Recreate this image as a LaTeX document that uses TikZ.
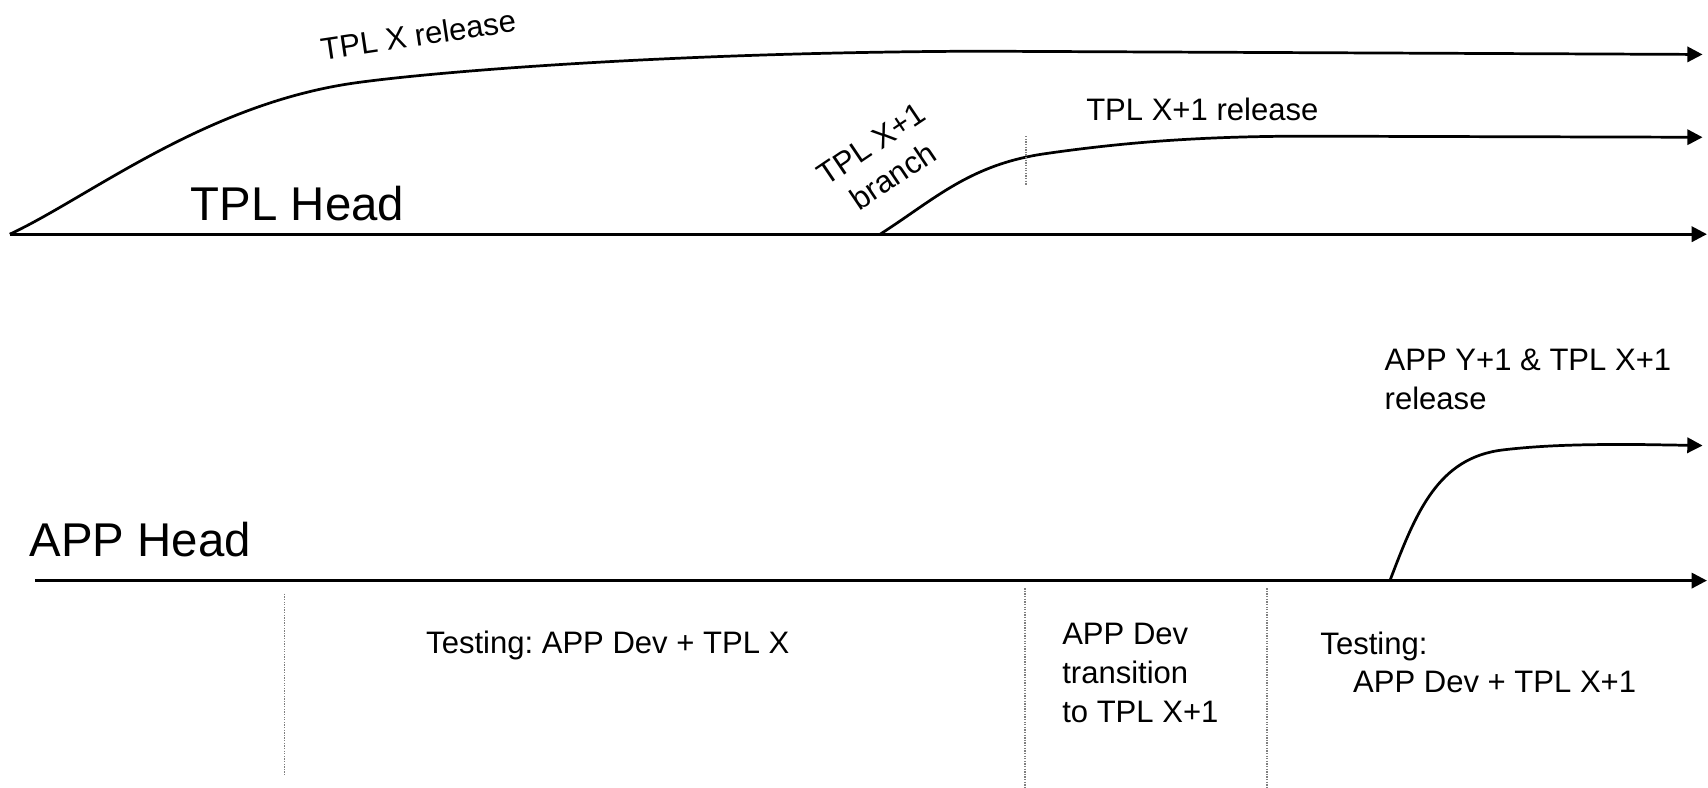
\documentclass[tikz,border=0pt]{standalone}
\usepackage{fontspec}
\setmainfont{Liberation Sans}
\usetikzlibrary{arrows.meta}
\begin{document}
\begin{tikzpicture}[x=1pt,y=-1pt,
  flow/.style={line width=2.5pt,-{Triangle[length=14pt,width=14pt]}},
  divider/.style={gray,line width=1.2pt,dash pattern=on 1.2pt off 1.2pt},
  lbl/.style={font=\fontsize{28.5}{35.5}\selectfont\frenchspacing,inner sep=0pt},
  head/.style={font=\fontsize{43.5}{50}\selectfont,inner sep=0pt}]
\useasboundingbox (0,0) rectangle (1568,723);

% anchor points of the timelines
\coordinate (tplL) at (9,215);
\coordinate (tplR) at (1567,215);
\coordinate (relXmid) at (320,77);
\coordinate (relXflat) at (900,47);
\coordinate (relXend) at (1563,50);
\coordinate (brStart) at (808,215);
\coordinate (brMid) at (960,141);
\coordinate (brFlat) at (1200,125);
\coordinate (brEnd) at (1563,126);
\coordinate (appL) at (32,533);
\coordinate (appR) at (1567,533);
\coordinate (appBr) at (1276,533);
\coordinate (appMid) at (1380,413);
\coordinate (appFlat) at (1500,408);
\coordinate (appEnd) at (1563,409);

% divider end points
\coordinate (dTopA) at (942,125);
\coordinate (dTopB) at (942,170);
\coordinate (d1A) at (261,545);
\coordinate (d1B) at (261,712);
\coordinate (d2A) at (941,540);
\coordinate (d2B) at (941,723);
\coordinate (d3A) at (1163,540);
\coordinate (d3B) at (1163,723);

% TPL timeline and its release branches
\draw[flow] (tplL) -- (tplR);
\draw[flow] (tplL) .. controls (80,182) and (185,98) .. (relXmid)
  .. controls (380,67.7) and (600,48) .. (relXflat) -- (relXend);
\draw[flow] (brStart) .. controls (858,183) and (890,151) .. (brMid)
  .. controls (1030,131) and (1100,125) .. (brFlat) -- (brEnd);

% APP timeline and its release branch
\draw[flow] (appL) -- (appR);
\draw[flow] (appBr) .. controls (1300,470) and (1320,420) .. (appMid)
  .. controls (1420,408.3) and (1460,408) .. (appFlat) -- (appEnd);

% phase dividers
\draw[divider] (dTopA) -- (dTopB);
\draw[divider] (d1A) -- (d1B);
\draw[divider] (d2A) -- (d2B);
\draw[divider] (d3A) -- (d3B);

% labels (multi-line nodes are placed by the baseline of their last line)
\node[head,anchor=base west] (tplhead) at (175,202) {TPL Head};
\node[head,anchor=base west] (apphead) at (27,511) {APP Head};
\node[lbl,rotate=8.5] (relx) at (384,32) {TPL X release};
\node[lbl,rotate=34,align=center] (branch) at (810,147) {TPL X+1\\branch};
\node[lbl,anchor=base west] (relx1) at (997,111) {TPL X+1 release};
\node[lbl,anchor=base west,align=left] (appy1) at (1271,376) {APP Y+1 \& TPL X+1\\release};
\node[lbl,anchor=base] (testx) at (558,600) {Testing: APP Dev + TPL X};
\node[lbl,anchor=base west,align=left] (trans) at (975,663) {APP Dev\\transition\\to TPL X+1};
\node[lbl,anchor=base west,align=left] (testx1) at (1212,636) {Testing:\\\hspace*{30pt}APP Dev + TPL X+1};
\end{tikzpicture}
\end{document}
